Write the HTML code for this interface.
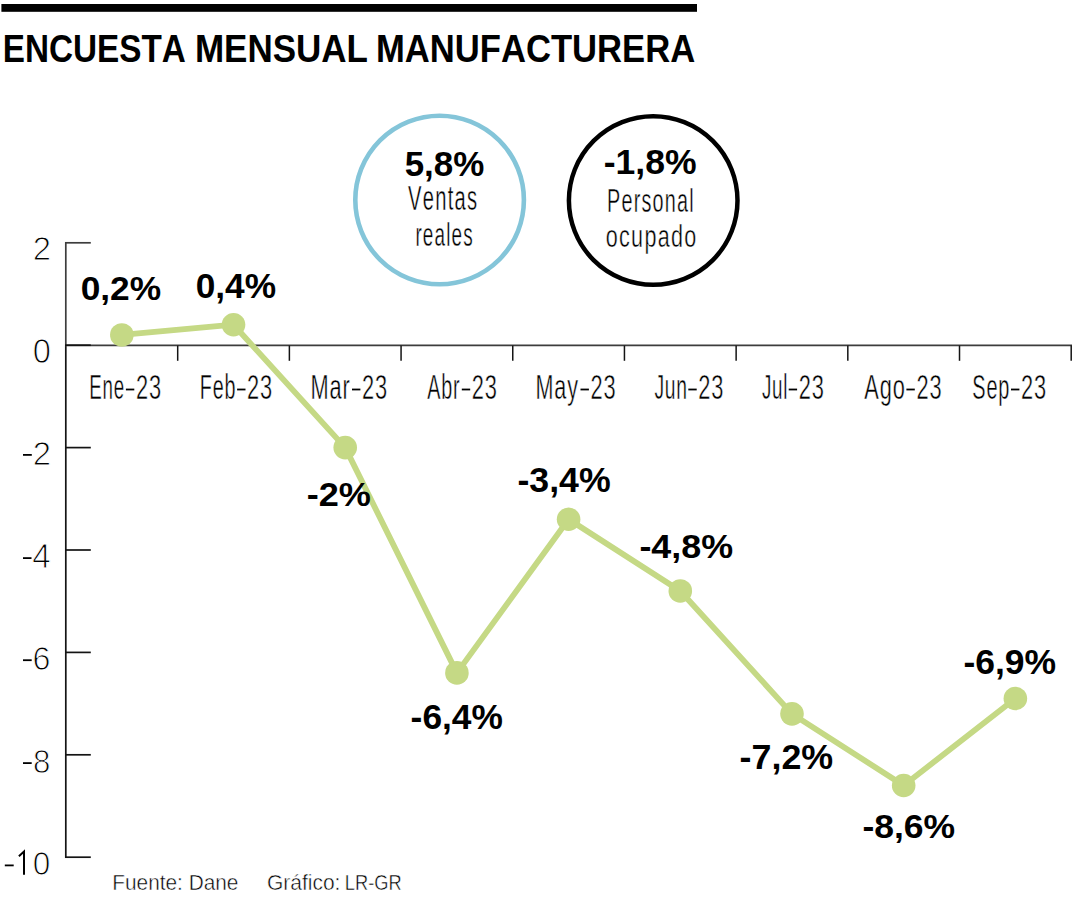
<!DOCTYPE html>
<html><head><meta charset="utf-8"><title>Encuesta Mensual Manufacturera</title>
<style>
html,body{margin:0;padding:0;background:#fff;}
body{width:1080px;height:900px;overflow:hidden;}
svg{display:block;}
text{font-family:"Liberation Sans",sans-serif;font-kerning:none;font-variant-ligatures:none;}
</style></head><body>
<svg width="1080" height="900" viewBox="0 0 1080 900">
<rect width="1080" height="900" fill="#fff"/>
<rect x="1.4" y="4" width="695.6" height="7.8" fill="#000"/>
<circle cx="439.6" cy="200.0" r="84.3" fill="none" stroke="#84c5d9" stroke-width="4.6"/>
<circle cx="653.2" cy="200.5" r="84.3" fill="none" stroke="#000" stroke-width="4.5"/>
<line x1="65.8" y1="242" x2="65.8" y2="345.2" stroke="#3d3d3d" stroke-width="1.7"/>
<line x1="65.8" y1="345.2" x2="65.8" y2="858" stroke="#141414" stroke-width="1.7"/>
<line x1="65" y1="345.3" x2="1072.0" y2="345.3" stroke="#3d3d3d" stroke-width="1.8"/>
<line x1="65" y1="242.8" x2="90.8" y2="242.8" stroke="#3d3d3d" stroke-width="1.7"/>
<line x1="65" y1="345.2" x2="90.8" y2="345.2" stroke="#141414" stroke-width="1.7"/>
<line x1="65" y1="447.6" x2="90.8" y2="447.6" stroke="#141414" stroke-width="1.7"/>
<line x1="65" y1="550.0" x2="90.8" y2="550.0" stroke="#141414" stroke-width="1.7"/>
<line x1="65" y1="652.4" x2="90.8" y2="652.4" stroke="#141414" stroke-width="1.7"/>
<line x1="65" y1="754.8" x2="90.8" y2="754.8" stroke="#141414" stroke-width="1.7"/>
<line x1="65" y1="857.2" x2="90.8" y2="857.2" stroke="#141414" stroke-width="1.7"/>
<line x1="177.69" y1="345.5" x2="177.69" y2="360.8" stroke="#141414" stroke-width="1.5"/>
<line x1="289.38" y1="345.5" x2="289.38" y2="360.8" stroke="#141414" stroke-width="1.5"/>
<line x1="401.07" y1="345.5" x2="401.07" y2="360.8" stroke="#141414" stroke-width="1.5"/>
<line x1="512.76" y1="345.5" x2="512.76" y2="360.8" stroke="#141414" stroke-width="1.5"/>
<line x1="624.44" y1="345.5" x2="624.44" y2="360.8" stroke="#141414" stroke-width="1.5"/>
<line x1="736.13" y1="345.5" x2="736.13" y2="360.8" stroke="#141414" stroke-width="1.5"/>
<line x1="847.82" y1="345.5" x2="847.82" y2="360.8" stroke="#141414" stroke-width="1.5"/>
<line x1="959.51" y1="345.5" x2="959.51" y2="360.8" stroke="#141414" stroke-width="1.5"/>
<line x1="1071.20" y1="345.5" x2="1071.20" y2="360.8" stroke="#141414" stroke-width="1.5"/>
<text transform="translate(89.36 398.80) scale(0.5267 1)" font-size="35.61" font-weight="normal" fill="#000" stroke="#fff" stroke-width="0.5" letter-spacing="1.424">Ene</text>
<text transform="translate(135.90 398.80) scale(0.6299 1)" font-size="34.66" font-weight="normal" fill="#000" stroke="#fff" stroke-width="0.5" letter-spacing="1.386">23</text>
<line x1="125.90" y1="389.5" x2="134.30" y2="389.5" stroke="#000" stroke-width="1.8"/>
<text transform="translate(199.78 398.80) scale(0.5552 1)" font-size="35.61" font-weight="normal" fill="#000" stroke="#fff" stroke-width="0.5" letter-spacing="1.424">Feb</text>
<text transform="translate(247.10 398.80) scale(0.6299 1)" font-size="34.66" font-weight="normal" fill="#000" stroke="#fff" stroke-width="0.5" letter-spacing="1.386">23</text>
<line x1="237.10" y1="389.5" x2="245.50" y2="389.5" stroke="#000" stroke-width="1.8"/>
<text transform="translate(310.61 398.80) scale(0.6116 1)" font-size="35.61" font-weight="normal" fill="#000" stroke="#fff" stroke-width="0.5" letter-spacing="1.424">Mar</text>
<text transform="translate(362.00 398.80) scale(0.6299 1)" font-size="34.66" font-weight="normal" fill="#000" stroke="#fff" stroke-width="0.5" letter-spacing="1.386">23</text>
<line x1="352.00" y1="389.5" x2="360.40" y2="389.5" stroke="#000" stroke-width="1.8"/>
<text transform="translate(427.26 398.80) scale(0.5555 1)" font-size="35.61" font-weight="normal" fill="#000" stroke="#fff" stroke-width="0.5" letter-spacing="1.424">Abr</text>
<text transform="translate(471.80 398.80) scale(0.6299 1)" font-size="34.66" font-weight="normal" fill="#000" stroke="#fff" stroke-width="0.5" letter-spacing="1.386">23</text>
<line x1="461.80" y1="389.5" x2="470.20" y2="389.5" stroke="#000" stroke-width="1.8"/>
<text transform="translate(535.53 398.80) scale(0.6063 1)" font-size="35.61" font-weight="normal" fill="#000" stroke="#fff" stroke-width="0.5" letter-spacing="1.424">May</text>
<text transform="translate(590.50 398.80) scale(0.6299 1)" font-size="34.66" font-weight="normal" fill="#000" stroke="#fff" stroke-width="0.5" letter-spacing="1.386">23</text>
<line x1="580.50" y1="389.5" x2="588.90" y2="389.5" stroke="#000" stroke-width="1.8"/>
<text transform="translate(654.40 398.80) scale(0.5419 1)" font-size="35.61" font-weight="normal" fill="#000" stroke="#fff" stroke-width="0.5" letter-spacing="1.424">Jun</text>
<text transform="translate(698.30 398.80) scale(0.6299 1)" font-size="34.66" font-weight="normal" fill="#000" stroke="#fff" stroke-width="0.5" letter-spacing="1.386">23</text>
<line x1="688.30" y1="389.5" x2="696.70" y2="389.5" stroke="#000" stroke-width="1.8"/>
<text transform="translate(761.91 398.80) scale(0.5283 1)" font-size="35.61" font-weight="normal" fill="#000" stroke="#fff" stroke-width="0.5" letter-spacing="1.424">Jul</text>
<text transform="translate(798.70 398.80) scale(0.6299 1)" font-size="34.66" font-weight="normal" fill="#000" stroke="#fff" stroke-width="0.5" letter-spacing="1.386">23</text>
<line x1="788.70" y1="389.5" x2="797.10" y2="389.5" stroke="#000" stroke-width="1.8"/>
<text transform="translate(864.26 398.80) scale(0.6126 1)" font-size="35.61" font-weight="normal" fill="#000" stroke="#fff" stroke-width="0.5" letter-spacing="1.424">Ago</text>
<text transform="translate(916.40 398.80) scale(0.6299 1)" font-size="34.66" font-weight="normal" fill="#000" stroke="#fff" stroke-width="0.5" letter-spacing="1.386">23</text>
<line x1="906.40" y1="389.5" x2="914.80" y2="389.5" stroke="#000" stroke-width="1.8"/>
<text transform="translate(972.30 398.80) scale(0.5594 1)" font-size="35.61" font-weight="normal" fill="#000" stroke="#fff" stroke-width="0.5" letter-spacing="1.424">Sep</text>
<text transform="translate(1021.00 398.80) scale(0.6299 1)" font-size="34.66" font-weight="normal" fill="#000" stroke="#fff" stroke-width="0.5" letter-spacing="1.386">23</text>
<line x1="1011.00" y1="389.5" x2="1019.40" y2="389.5" stroke="#000" stroke-width="1.8"/>
<text transform="translate(32.84 259.90) scale(0.9825 1)" font-size="33.51" font-weight="normal" fill="#000" stroke="#fff" stroke-width="1.0">2</text>
<text transform="translate(32.63 363.00) scale(0.9494 1)" font-size="34.37" font-weight="normal" fill="#000" stroke="#fff" stroke-width="1.0">0</text>
<text transform="translate(32.84 465.00) scale(0.9660 1)" font-size="34.09" font-weight="normal" fill="#000" stroke="#fff" stroke-width="1.0">2</text>
<line x1="23.00" y1="454.90" x2="31.80" y2="454.90" stroke="#000" stroke-width="1.8"/>
<text transform="translate(32.24 567.90) scale(0.9580 1)" font-size="34.59" font-weight="normal" fill="#000" stroke="#fff" stroke-width="1.0">4</text>
<line x1="23.00" y1="558.10" x2="31.50" y2="558.10" stroke="#000" stroke-width="1.8"/>
<text transform="translate(32.46 669.60) scale(0.9554 1)" font-size="33.80" font-weight="normal" fill="#000" stroke="#fff" stroke-width="1.0">6</text>
<line x1="23.00" y1="660.20" x2="31.70" y2="660.20" stroke="#000" stroke-width="1.8"/>
<text transform="translate(32.94 772.70) scale(0.9269 1)" font-size="33.80" font-weight="normal" fill="#000" stroke="#fff" stroke-width="1.0">8</text>
<line x1="23.00" y1="763.10" x2="31.70" y2="763.10" stroke="#000" stroke-width="1.8"/>
<text transform="translate(32.77 874.80) scale(0.9267 1)" font-size="34.09" font-weight="normal" fill="#000" stroke="#fff" stroke-width="1.0">0</text>
<line x1="4.80" y1="865.40" x2="13.70" y2="865.40" stroke="#000" stroke-width="1.8"/>
<path d="M18.9,856.2 L24.0,851.6 L24.0,874.8" fill="none" stroke="#000" stroke-width="2" stroke-linejoin="miter"/>
<text transform="translate(112.29 889.70) scale(0.9129 1)" font-size="22.82" font-weight="normal" fill="#000" stroke="#fff" stroke-width="0.5">Fuente: Dane</text>
<text transform="translate(266.94 889.80) scale(0.9274 1)" font-size="22.63" font-weight="normal" fill="#000" stroke="#fff" stroke-width="0.5">Gráfico:</text>
<text transform="translate(344.80 889.70) scale(0.8006 1)" font-size="22.82" font-weight="normal" fill="#000" stroke="#fff" stroke-width="0.5">LR-GR</text>
<polyline points="121.84,334.96 233.53,324.72 345.22,447.60 456.91,672.88 568.60,519.28 680.29,590.96 791.98,713.84 903.67,785.52 1015.36,698.48" fill="none" stroke="#c5d985" stroke-width="5.8" stroke-linejoin="round"/>
<circle cx="121.84" cy="334.96" r="11.8" fill="#c5d985"/>
<circle cx="233.53" cy="324.72" r="11.8" fill="#c5d985"/>
<circle cx="345.22" cy="447.60" r="11.8" fill="#c5d985"/>
<circle cx="456.91" cy="672.88" r="11.8" fill="#c5d985"/>
<circle cx="568.60" cy="519.28" r="11.8" fill="#c5d985"/>
<circle cx="680.29" cy="590.96" r="11.8" fill="#c5d985"/>
<circle cx="791.98" cy="713.84" r="11.8" fill="#c5d985"/>
<circle cx="903.67" cy="785.52" r="11.8" fill="#c5d985"/>
<circle cx="1015.36" cy="698.48" r="11.8" fill="#c5d985"/>
<text transform="translate(2.77 61.80) scale(0.8609 1)" font-size="38.67" font-weight="bold" fill="#000">ENCUESTA</text>
<text transform="translate(194.91 61.80) scale(0.9057 1)" font-size="38.67" font-weight="bold" fill="#000">MENSUAL</text>
<text transform="translate(375.93 61.80) scale(0.8957 1)" font-size="38.67" font-weight="bold" fill="#000">MANUFACTURERA</text>
<text transform="translate(404.63 175.80) scale(1.0118 1)" font-size="34.52" font-weight="bold" fill="#000">5,8%</text>
<text transform="translate(408.11 209.80) scale(0.5647 1)" font-size="35.76" font-weight="normal" fill="#000" stroke="#fff" stroke-width="0.45" letter-spacing="2.145">Ventas</text>
<text transform="translate(415.44 245.80) scale(0.5599 1)" font-size="33.81" font-weight="normal" fill="#000" stroke="#fff" stroke-width="0.45" letter-spacing="2.029">reales</text>
<text transform="translate(603.71 174.00) scale(1.0349 1)" font-size="34.37" font-weight="bold" fill="#000">-1,8%</text>
<text transform="translate(607.07 212.00) scale(0.6112 1)" font-size="32.43" font-weight="normal" fill="#000" stroke="#fff" stroke-width="0.45" letter-spacing="1.946">Personal</text>
<text transform="translate(605.80 247.30) scale(0.7000 1)" font-size="30.78" font-weight="normal" fill="#000" stroke="#fff" stroke-width="0.45" letter-spacing="1.847">ocupado</text>
<text transform="translate(80.70 299.60) scale(1.0352 1)" font-size="34.09" font-weight="bold" fill="#000">0,2%</text>
<text transform="translate(195.70 297.80) scale(1.0223 1)" font-size="34.52" font-weight="bold" fill="#000">0,4%</text>
<text transform="translate(306.69 505.60) scale(1.0783 1)" font-size="33.51" font-weight="bold" fill="#000">-2%</text>
<text transform="translate(517.41 492.10) scale(1.0255 1)" font-size="34.80" font-weight="bold" fill="#000">-3,4%</text>
<text transform="translate(639.40 557.70) scale(1.0573 1)" font-size="33.94" font-weight="bold" fill="#000">-4,8%</text>
<text transform="translate(410.62 728.90) scale(1.0324 1)" font-size="34.23" font-weight="bold" fill="#000">-6,4%</text>
<text transform="translate(739.60 768.90) scale(1.0375 1)" font-size="34.52" font-weight="bold" fill="#000">-7,2%</text>
<text transform="translate(862.41 837.60) scale(1.0413 1)" font-size="34.09" font-weight="bold" fill="#000">-8,6%</text>
<text transform="translate(963.41 673.90) scale(1.0284 1)" font-size="34.52" font-weight="bold" fill="#000">-6,9%</text>
</svg>
</body></html>
